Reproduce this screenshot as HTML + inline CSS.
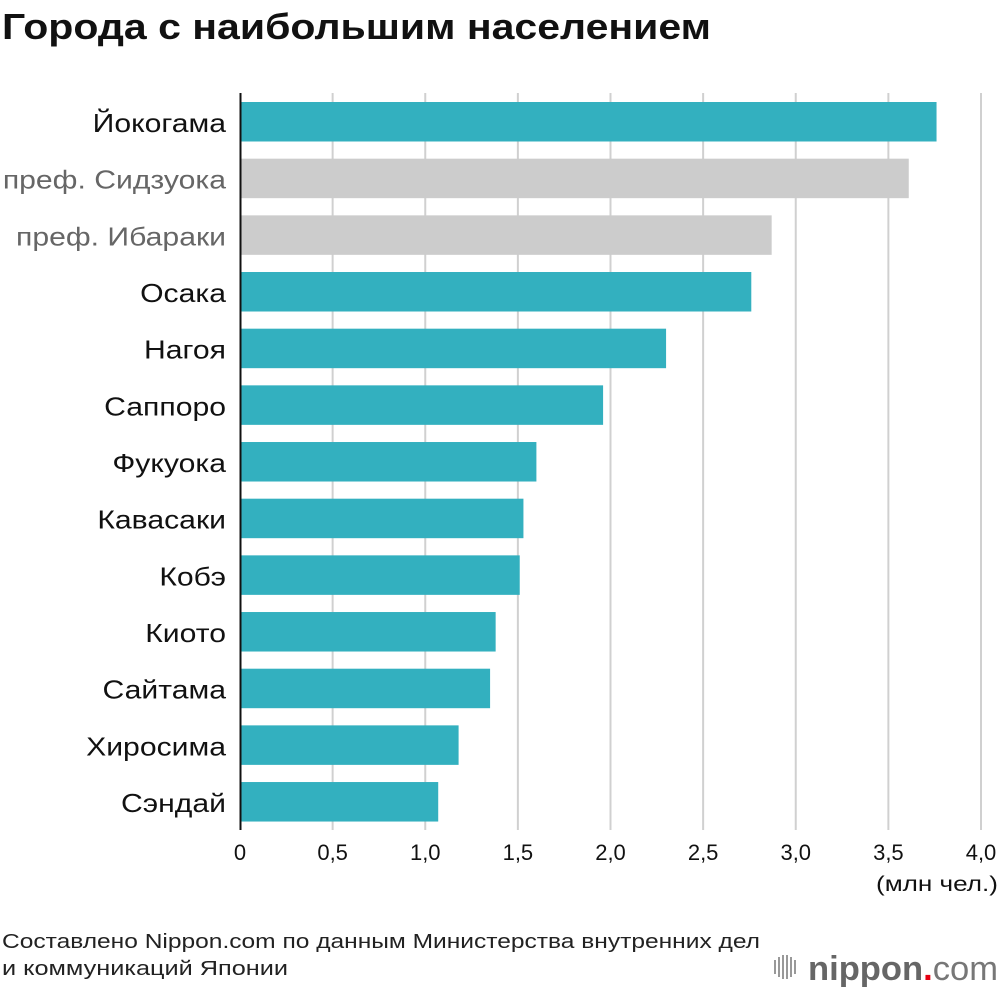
<!DOCTYPE html>
<html><head><meta charset="utf-8"><style>
body{margin:0;background:#fff;font-family:"Liberation Sans","DejaVu Sans",sans-serif;}
#wrap{position:relative;width:1000px;height:988px;overflow:hidden;}
</style></head><body>
<div id="wrap">
<svg id="chart" width="1000" height="988" xmlns="http://www.w3.org/2000/svg">
<text x="2" y="39" font-size="36" font-weight="bold" fill="#111" textLength="709" lengthAdjust="spacingAndGlyphs">Города с наибольшим населением</text>
<g id="grid"></g><g id="bars"></g><g id="labels" transform="translate(226,0) scale(1.16,1) translate(-226,0)"></g><g id="ticks"></g>
<line x1="240.5" y1="93" x2="240.5" y2="830" stroke="#111" stroke-width="2"/>
<text x="998" y="891" font-size="21" text-anchor="end" fill="#111" textLength="122" lengthAdjust="spacingAndGlyphs">(млн чел.)</text>
<text x="2" y="948" font-size="20" fill="#222" textLength="758" lengthAdjust="spacingAndGlyphs">Составлено Nippon.com по данным Министерства внутренних дел</text>
<text x="2" y="975" font-size="20" fill="#222" textLength="286" lengthAdjust="spacingAndGlyphs">и коммуникаций Японии</text>
<g>
<g fill="#999"><rect x="774" y="960" width="2" height="14"/><rect x="778" y="957" width="2" height="20"/><rect x="782" y="955" width="2" height="24"/><rect x="786" y="955" width="2" height="24"/><rect x="790" y="957" width="2" height="20"/><rect x="794" y="960" width="2" height="14"/></g>
<text x="808" y="980" font-size="34" font-weight="bold" fill="#666" textLength="190" lengthAdjust="spacingAndGlyphs">nippon<tspan fill="#e60012">.</tspan><tspan font-weight="normal" fill="#777">com</tspan></text>
</g>
</svg>
</div>
<script>
const categories=["Йокогама","преф. Сидзуока","преф. Ибараки","Осака","Нагоя","Саппоро","Фукуока","Кавасаки","Кобэ","Киото","Сайтама","Хиросима","Сэндай"];
const values=[3.76,3.61,2.87,2.76,2.30,1.96,1.60,1.53,1.51,1.38,1.35,1.18,1.07];
const isPrefecture=[false,true,true,false,false,false,false,false,false,false,false,false,false];
const tickValues=[0,0.5,1,1.5,2,2.5,3,3.5,4];
const tickLabels=["0","0,5","1,0","1,5","2,0","2,5","3,0","3,5","4,0"];
const NS="http://www.w3.org/2000/svg";
const x=v=>240+v*185.25;
const y=i=>102+i*56.67;
function mk(t,a,p){const e=document.createElementNS(NS,t);for(const k in a)e.setAttribute(k,a[k]);p.appendChild(e);return e;}
const grid=document.getElementById('grid'),bars=document.getElementById('bars'),labels=document.getElementById('labels'),ticks=document.getElementById('ticks');
tickValues.forEach((v,i)=>{
 if(v>0){const g=mk('line',{x1:x(v),x2:x(v),y1:93,y2:830,stroke:'#d0d0d0','stroke-width':2},grid);
 
 }
 const t=mk('text',{x:x(v),y:860,'font-size':22,'text-anchor':'middle',fill:'#111'},ticks);
 t.textContent=tickLabels[i];
 
 
});
categories.forEach((c,i)=>{
 const r=mk('rect',{x:241,y:y(i),width:x(values[i])-241,height:39.5,fill:isPrefecture[i]?'#cccccc':'#33b0bf'},bars);
 
 
 const t=mk('text',{x:226,y:y(i)+30,'font-size':26,'text-anchor':'end',fill:isPrefecture[i]?'#666':'#111'},labels);
 t.textContent=c;
 
 
});
</script>
</body></html>
